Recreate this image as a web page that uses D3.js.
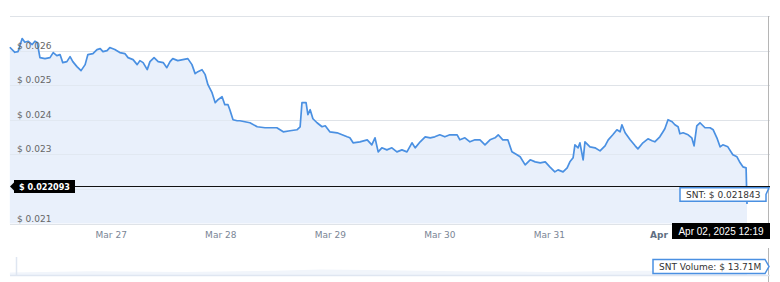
<!DOCTYPE html>
<html>
<head>
<meta charset="utf-8">
<script src="https://cdn.jsdelivr.net/npm/d3@7"></script>
<style>
  body { margin: 0; background: #fff; }
  svg { display: block; }
  .axis text { font-family: "DejaVu Sans", Verdana, sans-serif; }
</style>
</head>
<body>
<div id="content"></div>
<script>
// hours since 2025-03-26 00:00
const hours = [1.9,3.0,3.7,4.6,5.2,5.9,6.8,7.4,7.9,8.5,9.6,10.7,11.4,12.2,12.9,13.5,14.4,15.1,15.7,16.6,
  17.5,18.4,19.0,20.1,21.0,21.7,22.3,23.2,23.8,24.9,26.0,27.1,27.8,28.9,29.8,30.4,31.1,32.0,32.6,33.5,
  34.4,35.5,36.3,37.0,37.6,38.7,39.8,40.9,41.8,42.5,43.1,44.0,44.7,45.3,46.2,46.9,47.5,48.4,49.0,49.7,
  50.1,50.8,51.7,52.3,53.4,54.5,56.1,57.8,59.3,60.4,61.8,63.3,64.8,65.5,65.9,66.8,67.2,67.7,68.3,69.2,
  70.3,71.0,72.0,73.6,74.7,75.8,76.4,77.1,78.6,80.2,81.2,81.9,82.6,83.4,84.5,85.6,86.7,87.8,88.9,90.0,
  90.7,91.8,92.9,94.0,95.0,96.1,97.2,98.3,99.9,100.5,101.6,102.7,103.8,104.9,106.0,107.1,108.2,108.9,109.9,111.0,
  111.9,113.0,113.7,114.8,115.9,117.0,118.1,119.2,120.2,121.3,122.0,123.1,124.0,124.6,125.3,125.7,126.4,126.8,127.5,127.9,
  129.0,130.1,131.2,132.3,133.0,134.0,134.9,135.6,136.0,136.7,137.8,138.9,139.5,140.6,141.7,142.6,143.2,144.3,145.0,145.4,
  146.1,147.0,147.6,148.3,148.7,149.4,150.5,151.3,151.8,152.4,153.1,154.2,155.3,156.0,156.8,157.5,158.1,159.2,160.3,161.2,
  161.9,162.5,163.2,163.4];

const prices = [0.026096,0.025951,0.025971,0.026348,0.026241,0.026270,0.026174,0.026270,0.026232,0.025797,
  0.025768,0.025797,0.025942,0.025855,0.025884,0.025652,0.025681,0.025826,0.025681,0.025536,
  0.025420,0.025594,0.025884,0.025913,0.026029,0.026058,0.025971,0.026000,0.026087,0.026029,
  0.025942,0.025913,0.025797,0.025739,0.025594,0.025710,0.025652,0.025449,0.025681,0.025797,
  0.025681,0.025652,0.025507,0.025681,0.025768,0.025710,0.025739,0.025768,0.025594,0.025333,
  0.025391,0.025449,0.025304,0.025014,0.024783,0.024493,0.024580,0.024667,0.024435,0.024435,
  0.024290,0.024000,0.023971,0.023971,0.023942,0.023913,0.023797,0.023768,0.023768,0.023768,
  0.023652,0.023681,0.023710,0.023797,0.024493,0.024493,0.024145,0.024290,0.024029,0.023913,
  0.023797,0.023826,0.023652,0.023623,0.023565,0.023507,0.023478,0.023333,0.023362,0.023420,
  0.023275,0.023478,0.023072,0.023188,0.023130,0.023188,0.023072,0.023130,0.023072,0.023333,
  0.023188,0.023362,0.023507,0.023478,0.023507,0.023565,0.023507,0.023565,0.023565,0.023420,
  0.023478,0.023362,0.023420,0.023420,0.023275,0.023420,0.023478,0.023565,0.023420,0.023420,
  0.023072,0.022986,0.022928,0.022696,0.022841,0.022783,0.022754,0.022783,0.022638,0.022493,
  0.022551,0.022493,0.022609,0.022783,0.022899,0.023275,0.023188,0.023333,0.022841,0.023362,
  0.023217,0.023188,0.023100,0.023246,0.023420,0.023565,0.023710,0.023652,0.023855,0.023623,
  0.023420,0.023246,0.023159,0.023333,0.023449,0.023391,0.023362,0.023507,0.023652,0.023739,
  0.024000,0.023942,0.023855,0.023797,0.023594,0.023623,0.023565,0.023478,0.023246,0.023826,
  0.023913,0.023768,0.023768,0.023710,0.023478,0.023217,0.023275,0.023217,0.022986,0.022928,
  0.022754,0.022638,0.022609,0.021565];

// volume in navigator (millions $), very faint
const volHours = [1.9,20,40,60,70,80,100,120,140,163.4];
const volumes  = [4,6,5,7,9,8,6,5,7,6];

const yTicks = [0.021,0.022,0.023,0.024,0.025,0.026,0.027];
// 0.022 sits under the current price label, 0.027 is the top line
const yLabelTicks = [0.021,0.023,0.024,0.025,0.026];
const dayTicks = ["2025-03-27","2025-03-28","2025-03-29","2025-03-30","2025-03-31","2025-04-01"];

const currentPrice = 0.022093;
const hoverPrice = 0.021843;
const hoverDate = "Apr 02, 2025 12:19";
const volumeLabel = "SNT Volume: $ 13.71M";

const base = new Date(2025, 2, 26);
const toDate = h => new Date(base.getTime() + h * 3600e3);
const data = hours.map((h, i) => ({date: toDate(h), price: prices[i]}));
const volData = volHours.map((h, i) => ({date: toDate(h), vol: volumes[i]}));

const W = 780, H = 282;
const plotLeft = 8, plotRight = 768, plotTop = 16, plotBottom = 223.5;

const svg = d3.select("#content").append("svg")
    .attr("width", W).attr("height", H);

const x = d3.scaleTime()
    .domain([toDate(1.5), toDate(168)])
    .range([plotLeft, plotRight]);

const y = d3.scaleLinear()
    .domain([0.021, 0.027])
    .range([plotBottom, plotTop]);

// grid
svg.append("g")
    .selectAll("line")
    .data(yTicks)
    .join("line")
    .attr("x1", plotLeft + 2).attr("x2", plotRight + 2)
    .attr("y1", d => Math.round(y(d)) + 0.5)
    .attr("y2", d => Math.round(y(d)) + 0.5)
    .attr("stroke", "#e3e3e3");

// area + line
const area = d3.area()
    .x(d => x(d.date))
    .y0(plotBottom)
    .y1(d => y(d.price));

const line = d3.line()
    .x(d => x(d.date))
    .y(d => y(d.price));

svg.append("path")
    .datum(data)
    .attr("fill", "#e9f0fb")
    .attr("d", area);

// grid lines show faintly over the fill
svg.append("g")
    .selectAll("line")
    .data(yTicks)
    .join("line")
    .attr("x1", plotLeft + 2).attr("x2", plotRight + 2)
    .attr("y1", d => Math.round(y(d)) + 0.5)
    .attr("y2", d => Math.round(y(d)) + 0.5)
    .attr("stroke", "#dde3ec")
    .attr("opacity", 0.6);

svg.append("path")
    .datum(data)
    .attr("fill", "none")
    .attr("stroke", "#4a90e2")
    .attr("stroke-width", 1.7)
    .attr("stroke-linejoin", "round")
    .attr("d", line);

// y labels
svg.append("g")
    .attr("class", "axis")
    .selectAll("text")
    .data(yLabelTicks)
    .join("text")
    .attr("x", 17)
    .attr("y", d => y(d) - 2)
    .attr("font-size", 9)
    .attr("fill", "#666")
    .text(d => "$ " + d3.format(".3f")(d));

// x axis
const xAxis = d3.axisBottom(x)
    .tickValues(dayTicks.map(s => new Date(s + "T00:00")))
    .tickSize(0)
    .tickFormat(d => d.getDate() === 1 ? "Apr" : d3.timeFormat("%b %d")(d));

const gx = svg.append("g")
    .attr("class", "axis")
    .attr("transform", "translate(0," + 229 + ")")
    .call(xAxis);
gx.select(".domain").remove();
gx.selectAll("text")
    .attr("font-size", 9)
    .attr("font-weight", d => d.getDate() === 1 ? "bold" : null)
    .attr("fill", d => d.getDate() === 1 ? "#5f6f82" : "#7a8595");

// right border lines
svg.append("line")
    .attr("x1", 768.5).attr("x2", 768.5)
    .attr("y1", plotTop).attr("y2", plotBottom)
    .attr("stroke", "#b5b5b5");
svg.append("line")
    .attr("x1", 768.5).attr("x2", 768.5)
    .attr("y1", 248).attr("y2", 282)
    .attr("stroke", "#b5b5b5");

// navigator
const yv = d3.scaleLinear().domain([0, 40]).range([275, 250]);
svg.append("path")
    .datum(volData)
    .attr("fill", "#f1f5fb")
    .attr("d", d3.area().x(d => x(d.date)).y0(275).y1(d => yv(d.vol)));
svg.append("line")
    .attr("x1", plotLeft + 2).attr("x2", plotRight + 2)
    .attr("y1", 275.5).attr("y2", 275.5)
    .attr("stroke", "#dfe6f1").attr("stroke-width", 1.5);
svg.append("line")
    .attr("x1", 16.5).attr("x2", 16.5)
    .attr("y1", 257).attr("y2", 275)
    .attr("stroke", "#dfe6f1").attr("stroke-width", 1.5);

// crosshair at current price
const yc = Math.round(y(currentPrice)) + 0.5;
svg.append("line")
    .attr("x1", 12).attr("x2", 770)
    .attr("y1", yc).attr("y2", yc)
    .attr("stroke", "#111");

// left price label
const lbl = svg.append("g").attr("transform", "translate(0," + yc + ")");
lbl.append("path")
    .attr("d", "M10,0 L14,-4 L14,-6.5 L75,-6.5 L75,6.5 L14,6.5 L14,4 Z")
    .attr("fill", "#000");
lbl.append("text")
    .attr("x", 19).attr("y", 3.3)
    .attr("font-family", "DejaVu Sans, Verdana, sans-serif")
    .attr("font-size", 8.5).attr("font-weight", "bold")
    .attr("textLength", 51)
    .attr("lengthAdjust", "spacingAndGlyphs")
    .attr("fill", "#fff")
    .text("$ " + currentPrice);

// hover price label
const yh = y(hoverPrice);
const hl = svg.append("g").attr("transform", "translate(0," + yh + ")");
hl.append("path")
    .attr("d", "M680,-6.5 L764,-6.5 L769,-6.5 L766,0 L766,7 L680,7 Z")
    .attr("fill", "#fff")
    .attr("stroke", "#4a90e2").attr("stroke-width", 1.5);
hl.append("text")
    .attr("x", 686).attr("y", 3.5)
    .attr("font-family", "DejaVu Sans, Verdana, sans-serif")
    .attr("font-size", 9)
    .attr("fill", "#333")
    .text("SNT: $ " + hoverPrice);

// date tooltip
svg.append("rect")
    .attr("x", 672).attr("y", 223).attr("width", 98).attr("height", 16)
    .attr("fill", "#000");
svg.append("text")
    .attr("x", 721).attr("y", 235)
    .attr("text-anchor", "middle")
    .attr("font-family", "Liberation Sans, Arial, sans-serif")
    .attr("font-size", 10)
    .attr("fill", "#fff")
    .text(hoverDate);

// volume label
const vl = svg.append("g").attr("transform", "translate(0,266.5)");
vl.append("path")
    .attr("d", "M653,-7 L765,-7 L769,0 L765,7 L653,7 Z")
    .attr("fill", "#fff")
    .attr("stroke", "#4a90e2").attr("stroke-width", 1.5);
vl.append("text")
    .attr("x", 659).attr("y", 3.5)
    .attr("font-family", "DejaVu Sans, Verdana, sans-serif")
    .attr("font-size", 9)
    .attr("fill", "#333")
    .text(volumeLabel);
</script>
</body>
</html>
